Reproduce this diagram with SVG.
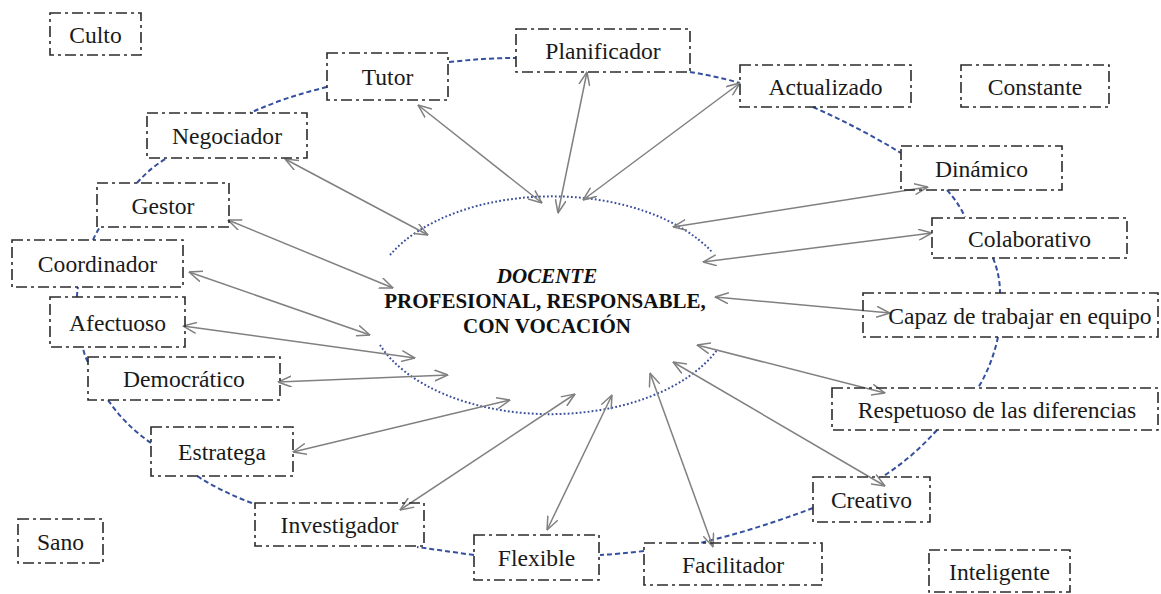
<svg xmlns="http://www.w3.org/2000/svg" width="1161" height="594" viewBox="0 0 1161 594">
<style>
.box rect{fill:none;stroke:#2b2b2b;stroke-width:1.6;stroke-dasharray:11 4 3 4}
.box text{font-family:"Liberation Serif","Times New Roman",serif;font-size:23.6px;fill:#1a1a1a;text-anchor:middle}
.ring path{fill:none;stroke:#34509f;stroke-width:2;stroke-dasharray:5 3}
.arr line{stroke:#808080;stroke-width:1.5;marker-start:url(#ah);marker-end:url(#ah)}
.core{fill:none;stroke:#3c4f9c;stroke-width:2;stroke-dasharray:1.8 2.2}
.ct{font-family:"Liberation Serif","Times New Roman",serif;font-size:21px;font-weight:bold;fill:#111;text-anchor:middle}
</style>
<defs>
<marker id="ah" viewBox="0 0 14 12" refX="13.5" refY="6" markerWidth="14" markerHeight="12" markerUnits="userSpaceOnUse" orient="auto-start-reverse">
<path d="M0,0.5 L13.5,6 L0,11.5" fill="none" stroke="#808080" stroke-width="1.5"/>
</marker>
</defs>
<rect width="1161" height="594" fill="#fff"/>

<g id="center">
<path class="core" d="M390,255 A182,107 0 0 1 712,252"/>
<path class="core" d="M380,345 A182,107 0 0 0 717,350"/>
<text class="ct" x="547" y="283" font-style="italic">DOCENTE</text>
<text class="ct" x="545" y="308">PROFESIONAL, RESPONSABLE,</text>
<text class="ct" x="547" y="333">CON VOCACIÓN</text>
</g>

<g id="connectors">
<g class="ring">
<path d="M327,87 Q285,97 250,113"/>
<path d="M449,62 Q485,58 516,58"/>
<path d="M690,72 Q715,76 740,83"/>
<path d="M813,107 Q860,128 901,153"/>
<path d="M947,190 Q958,202 965,217"/>
<path d="M993,258 Q1000,275 1000,293"/>
<path d="M998,337 Q992,365 978,388"/>
<path d="M937,430 Q912,458 882,477"/>
<path d="M813,508 Q755,530 700,543"/>
<path d="M644,551 Q620,554 600,555"/>
<path d="M474,555 Q445,551 417,547"/>
<path d="M252,503 Q222,492 197,476"/>
<path d="M151,443 Q125,425 108,400"/>
<path d="M88,362 Q84,355 83,347"/>
<path d="M77,297 Q77,292 78,287"/>
<path d="M93,240 Q96,233 100,227"/>
<path d="M137,183 Q150,168 167,158"/>
</g>
<g class="arr">
<line x1="418" y1="105" x2="542" y2="203"/>
<line x1="587" y1="72" x2="558" y2="213"/>
<line x1="740" y1="83" x2="583" y2="200"/>
<line x1="285" y1="159" x2="428" y2="235"/>
<line x1="228" y1="220" x2="393" y2="288"/>
<line x1="189" y1="272" x2="370" y2="335"/>
<line x1="183" y1="326" x2="415" y2="358"/>
<line x1="278" y1="382" x2="448" y2="375"/>
<line x1="293" y1="452" x2="510" y2="400"/>
<line x1="400" y1="510" x2="575" y2="394"/>
<line x1="547" y1="530" x2="612" y2="395"/>
<line x1="713" y1="547" x2="650" y2="373"/>
<line x1="885" y1="486" x2="673" y2="362"/>
<line x1="885" y1="393" x2="697" y2="345"/>
<line x1="890" y1="313" x2="715" y2="297"/>
<line x1="932" y1="233" x2="703" y2="262"/>
<line x1="928" y1="187" x2="673" y2="227"/>
</g>
</g>

<g id="culto" class="box"><rect x="50" y="13" width="91" height="42"/><text x="95.5" y="42.5">Culto</text></g>
<g id="tutor" class="box"><rect x="327" y="53" width="121" height="47"/><text x="387.5" y="85">Tutor</text></g>
<g id="planificador" class="box"><rect x="516" y="29" width="174" height="43"/><text x="603" y="59">Planificador</text></g>
<g id="actualizado" class="box"><rect x="740" y="65" width="171" height="42"/><text x="825.5" y="94.5">Actualizado</text></g>
<g id="constante" class="box"><rect x="961" y="65" width="148" height="42"/><text x="1035" y="94.5">Constante</text></g>
<g id="negociador" class="box"><rect x="147" y="113" width="160" height="45"/><text x="227" y="144">Negociador</text></g>
<g id="dinamico" class="box"><rect x="901" y="146" width="161" height="44"/><text x="981.5" y="176.5">Dinámico</text></g>
<g id="gestor" class="box"><rect x="97" y="183" width="132" height="44"/><text x="163" y="213.5">Gestor</text></g>
<g id="colaborativo" class="box"><rect x="932" y="218" width="195" height="40"/><text x="1029.5" y="246.5">Colaborativo</text></g>
<g id="coordinador" class="box"><rect x="12" y="240" width="171" height="47"/><text x="97.5" y="272">Coordinador</text></g>
<g id="capaz" class="box"><rect x="863" y="293" width="295" height="44"/><text x="1020" y="323.5">Capaz de trabajar en equipo</text></g>
<g id="afectuoso" class="box"><rect x="50" y="297" width="135" height="50"/><text x="117.5" y="330.5">Afectuoso</text></g>
<g id="democratico" class="box"><rect x="88" y="357" width="192" height="43"/><text x="184" y="387">Democrático</text></g>
<g id="respetuoso" class="box"><rect x="832" y="388" width="326" height="42"/><text x="997" y="417.5">Respetuoso de las diferencias</text></g>
<g id="estratega" class="box"><rect x="151" y="427" width="142" height="49"/><text x="222" y="460">Estratega</text></g>
<g id="creativo" class="box"><rect x="813" y="477" width="117" height="45"/><text x="871.5" y="508">Creativo</text></g>
<g id="investigador" class="box"><rect x="255" y="503" width="169" height="43"/><text x="339.5" y="533">Investigador</text></g>
<g id="flexible" class="box"><rect x="474" y="535" width="125" height="45"/><text x="536.5" y="566">Flexible</text></g>
<g id="facilitador" class="box"><rect x="644" y="543" width="178" height="42"/><text x="733" y="572.5">Facilitador</text></g>
<g id="inteligente" class="box"><rect x="929" y="550" width="141" height="42"/><text x="999.5" y="579.5">Inteligente</text></g>
<g id="sano" class="box"><rect x="18" y="519" width="85" height="44"/><text x="60.5" y="549.5">Sano</text></g>
</svg>
